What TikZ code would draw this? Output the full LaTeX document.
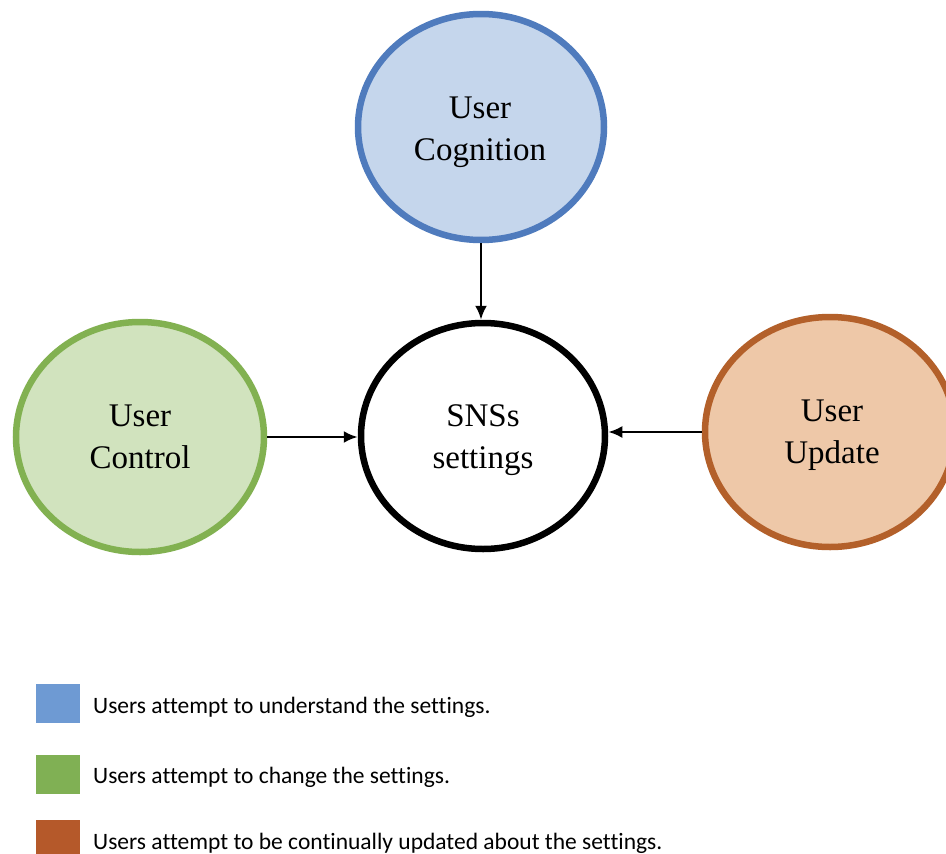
\documentclass[tikz,border=0pt]{standalone}
\usepackage{fontspec}
\setmainfont{Liberation Serif}
\newfontfamily\legendfont[Ligatures={NoCommon}]{Carlito}
\usetikzlibrary{shapes.geometric,arrows.meta}
\definecolor{bluedge}{HTML}{4F7BBD}
\definecolor{bluefill}{HTML}{C5D6EC}
\definecolor{greenedge}{HTML}{82B151}
\definecolor{greenfill}{HTML}{D1E3BE}
\definecolor{brownedge}{HTML}{B3602A}
\definecolor{brownfill}{HTML}{EEC8A8}
\definecolor{legblue}{HTML}{6E9AD3}
\definecolor{leggreen}{HTML}{80B054}
\definecolor{legbrown}{HTML}{B5592A}
\tikzset{
  bubble/.style={ellipse, line width=6.5pt, inner sep=0pt},
  bubbletext/.style={inner sep=0pt, align=center, font=\fontsize{33}{42}\selectfont},
  link/.style={line width=2.5pt, -{Latex[length=14pt,width=12pt]}},
  legbox/.style={minimum width=44pt, minimum height=39pt, inner sep=0pt},
  legtext/.style={anchor=west, inner sep=0pt, font=\legendfont\fontsize{23.5}{28}\selectfont}
}
\begin{document}
\begin{tikzpicture}[x=1pt,y=-1pt]
\useasboundingbox (0,0) rectangle (946,854);
\clip (0,0) rectangle (946,854);
\fill[white] (0,0) rectangle (946,854);
\node[bubble, draw=bluedge, fill=bluefill, minimum width=246pt, minimum height=226pt] (cog) at (481,127) {};
\node[bubble, draw=greenedge, fill=greenfill, minimum width=248pt, minimum height=230pt] (ctl) at (140,437) {};
\node[bubble, draw=black, fill=white, minimum width=244pt, minimum height=226pt] (sns) at (483,436) {};
\node[bubble, draw=brownedge, fill=brownfill, minimum width=250pt, minimum height=230pt] (upd) at (830,432) {};
\node[bubbletext] (cogt) at (480,132) {User\\Cognition};
\node[bubbletext] (ctlt) at (140,437) {User\\Control};
\node[bubbletext] (snst) at (483,440) {SNSs\\settings};
\node[bubbletext] (updt) at (832,435) {User\\Update};
\draw[link] (cog.south) -- (cog.south |- sns.north);
\draw[link] (ctl.east) -- (ctl.east -| sns.west);
\draw[link] (upd.west) -- (upd.west -| sns.east);
\node[legbox, fill=legblue] (l1) at (58,703.5) {};
\node[legbox, fill=leggreen] (l2) at (58,774.5) {};
\node[legbox, fill=legbrown, minimum height=40pt] (l3) at (58,840) {};
\node[legtext] (t1) at (93,707) {Users attempt to understand the settings.};
\node[legtext] (t2) at (93,777) {Users attempt to change the settings.};
\node[legtext] (t3) at (93,843) {Users attempt to be continually updated about the settings.};
\end{tikzpicture}
\end{document}
